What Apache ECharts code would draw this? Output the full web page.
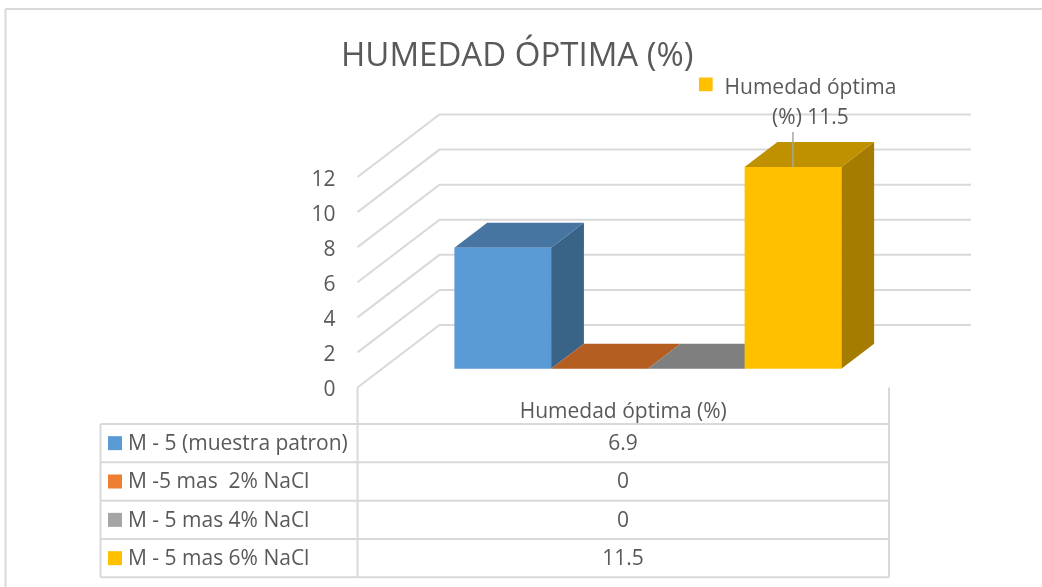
<!DOCTYPE html>
<html>
<head>
<meta charset="utf-8">
<style>
  html, body { margin: 0; padding: 0; background: #fff; }
  #main { width: 1042px; height: 587px; }
</style>
</head>
<body>
<div id="main"></div>
<script src="https://cdn.jsdelivr.net/npm/echarts@6/dist/echarts.min.js"></script>
<script>
// datos
var axisCategory = ["Humedad óptima (%)"];
var muestras = ["M - 5 (muestra patron)", "M -5 mas  2% NaCl", "M - 5 mas 4% NaCl", "M - 5 mas 6% NaCl"];
var humedad = [6.9, 0, 0, 11.5];
var yTicks = [0, 2, 4, 6, 8, 10, 12];

// colores: frente, tapa, lado, muestra de leyenda
var frontColors = ["#5B9BD5", "#ED7D31", "#A5A5A5", "#FFC000"];
var topColors = ["#4675A2", "#B55E22", "#7F7F7F", "#BF9000"];
var sideColors = ["#3A6487", "#9A4F1C", "#6B6B6B", "#A67C00"];

var FONT = "'Open Sans', sans-serif";
var TEXT = "#595959";
var LINE = "#D9D9D9";

// profundidad del piso (frente -> fondo) y de la barra dentro de el
var WALL_DX = 82, WALL_DY = -62.5;
var BAR_FRONT = 0.3, BAR_DEPTH = 0.4;

var rowLines = [424, 462.3, 500.7, 539, 577.3];
var tableLeft = 100.5, tableMid = 357.5, tableRight = 889;

function renderWall(params, api) {
  var c = api.coord([0, api.value(1)]);
  var band = api.size([1, 0])[0];
  var x0 = c[0] - band / 2;
  var x1 = c[0] + band / 2;
  return {
    type: "polyline",
    shape: { points: [[x0, c[1]], [x0 + WALL_DX, c[1] + WALL_DY], [x1 + WALL_DX, c[1] + WALL_DY]] },
    style: { fill: null, stroke: LINE, lineWidth: 2 },
  };
}

function makeBarRender(i) {
  return function (params, api) {
    var val = api.value(1);
    var base = api.coord([0, 0]);
    var top = api.coord([0, val]);
    var band = api.size([1, 0])[0];
    var w = band * 0.182;
    var sx = WALL_DX * BAR_FRONT, sy = WALL_DY * BAR_FRONT;
    var dx = WALL_DX * BAR_DEPTH, dy = WALL_DY * BAR_DEPTH;
    var l = base[0] - 2 * w + i * w + sx;
    var r = l + w;
    var b = base[1] + sy;
    var t = top[1] + sy;
    var children = [
      {
        type: "polygon",
        shape: { points: [[r, b], [r + dx, b + dy], [r + dx, t + dy], [r, t]] },
        style: { fill: sideColors[i] },
      },
      {
        type: "polygon",
        shape: { points: [[l, t], [r, t], [r + dx, t + dy], [l + dx, t + dy]] },
        style: { fill: topColors[i] },
      },
      {
        type: "rect",
        shape: { x: l, y: t, width: w, height: b - t },
        style: { fill: frontColors[i] },
      },
    ];
    // etiqueta de la ultima barra con su linea guia
    if (i == 3) {
      var mid = (l + r) / 2;
      children.push({
        type: "line",
        shape: { x1: mid, y1: t, x2: mid, y2: t - 35 },
        style: { stroke: "#A6A6A6", lineWidth: 1.5 },
      });
      children.push({
        type: "rect",
        shape: { x: mid - 94, y: t - 89.5, width: 13.7, height: 13.7 },
        style: { fill: frontColors[i] },
      });
      children.push({
        type: "text",
        style: {
          x: mid + 17.5,
          y: t - 64,
          text: axisCategory[0].replace(" (%)", "") + "\n(%) " + val,
          fill: TEXT,
          font: "21px " + FONT,
          align: "center",
          verticalAlign: "middle",
          lineHeight: 30,
        },
      });
    }
    return { type: "group", children: children };
  };
}

// tabla de datos
var tableGraphic = [
  // marco exterior
  { type: "line", shape: { x1: 5.5, y1: 9, x2: 1042, y2: 9 }, style: { stroke: LINE, lineWidth: 2 } },
  { type: "line", shape: { x1: 5.5, y1: 9, x2: 5.5, y2: 587 }, style: { stroke: LINE, lineWidth: 2 } },
  { type: "line", shape: { x1: tableMid, y1: 387.5, x2: tableMid, y2: 577.3 }, style: { stroke: LINE, lineWidth: 2 } },
  { type: "line", shape: { x1: tableRight, y1: 387.5, x2: tableRight, y2: 577.3 }, style: { stroke: LINE, lineWidth: 2 } },
  { type: "line", shape: { x1: tableLeft, y1: 424, x2: tableLeft, y2: 577.3 }, style: { stroke: LINE, lineWidth: 2 } },
];
rowLines.forEach(function (y) {
  tableGraphic.push({
    type: "line",
    shape: { x1: tableLeft, y1: y, x2: tableRight, y2: y },
    style: { stroke: LINE, lineWidth: 2 },
  });
});
muestras.forEach(function (name, i) {
  var cy = (rowLines[i] + rowLines[i + 1]) / 2;
  tableGraphic.push({
    type: "rect",
    shape: { x: 108, y: cy - 7, width: 14, height: 14 },
    style: { fill: frontColors[i] },
  });
  tableGraphic.push({
    type: "text",
    style: { x: 128, y: cy + 1, text: name, fill: TEXT, font: "21px " + FONT, align: "left", verticalAlign: "middle" },
  });
  tableGraphic.push({
    type: "text",
    style: { x: 623, y: cy + 1, text: String(humedad[i]), fill: TEXT, font: "21px " + FONT, align: "center", verticalAlign: "middle" },
  });
});

var myChart = echarts.init(document.getElementById("main"));

var series = [
  {
    name: "pared",
    type: "custom",
    coordinateSystem: "cartesian2d",
    clip: false,
    silent: true,
    renderItem: renderWall,
    data: yTicks.map(function (v) { return [0, v]; }),
  },
];
muestras.forEach(function (name, i) {
  series.push({
    name: name,
    type: "custom",
    coordinateSystem: "cartesian2d",
    clip: false,
    renderItem: makeBarRender(i),
    data: [[0, humedad[i]]],
  });
});

var option = {
  animation: false,
  backgroundColor: "#fff",
  title: {
    text: "HUMEDAD ÓPTIMA (%)",
    left: 341,
    top: 40,
    padding: 0,
    textStyle: { color: TEXT, fontFamily: FONT, fontSize: 33, fontWeight: "normal" },
  },
  grid: { left: 357.5, top: 177, width: 531.5, height: 210.5 },
  xAxis: {
    type: "category",
    data: axisCategory,
    axisLine: { show: false },
    axisTick: { show: false },
    axisLabel: { color: TEXT, fontFamily: FONT, fontSize: 21, margin: 14 },
  },
  yAxis: {
    type: "value",
    min: 0,
    max: 12,
    interval: 2,
    splitLine: { show: false },
    axisLine: { show: false },
    axisTick: { show: false },
    axisLabel: { color: TEXT, fontFamily: FONT, fontSize: 21, margin: 22, verticalAlign: "top", lineHeight: 6 },
  },
  graphic: tableGraphic,
  series: series,
};

myChart.setOption(option);
</script>
</body>
</html>
